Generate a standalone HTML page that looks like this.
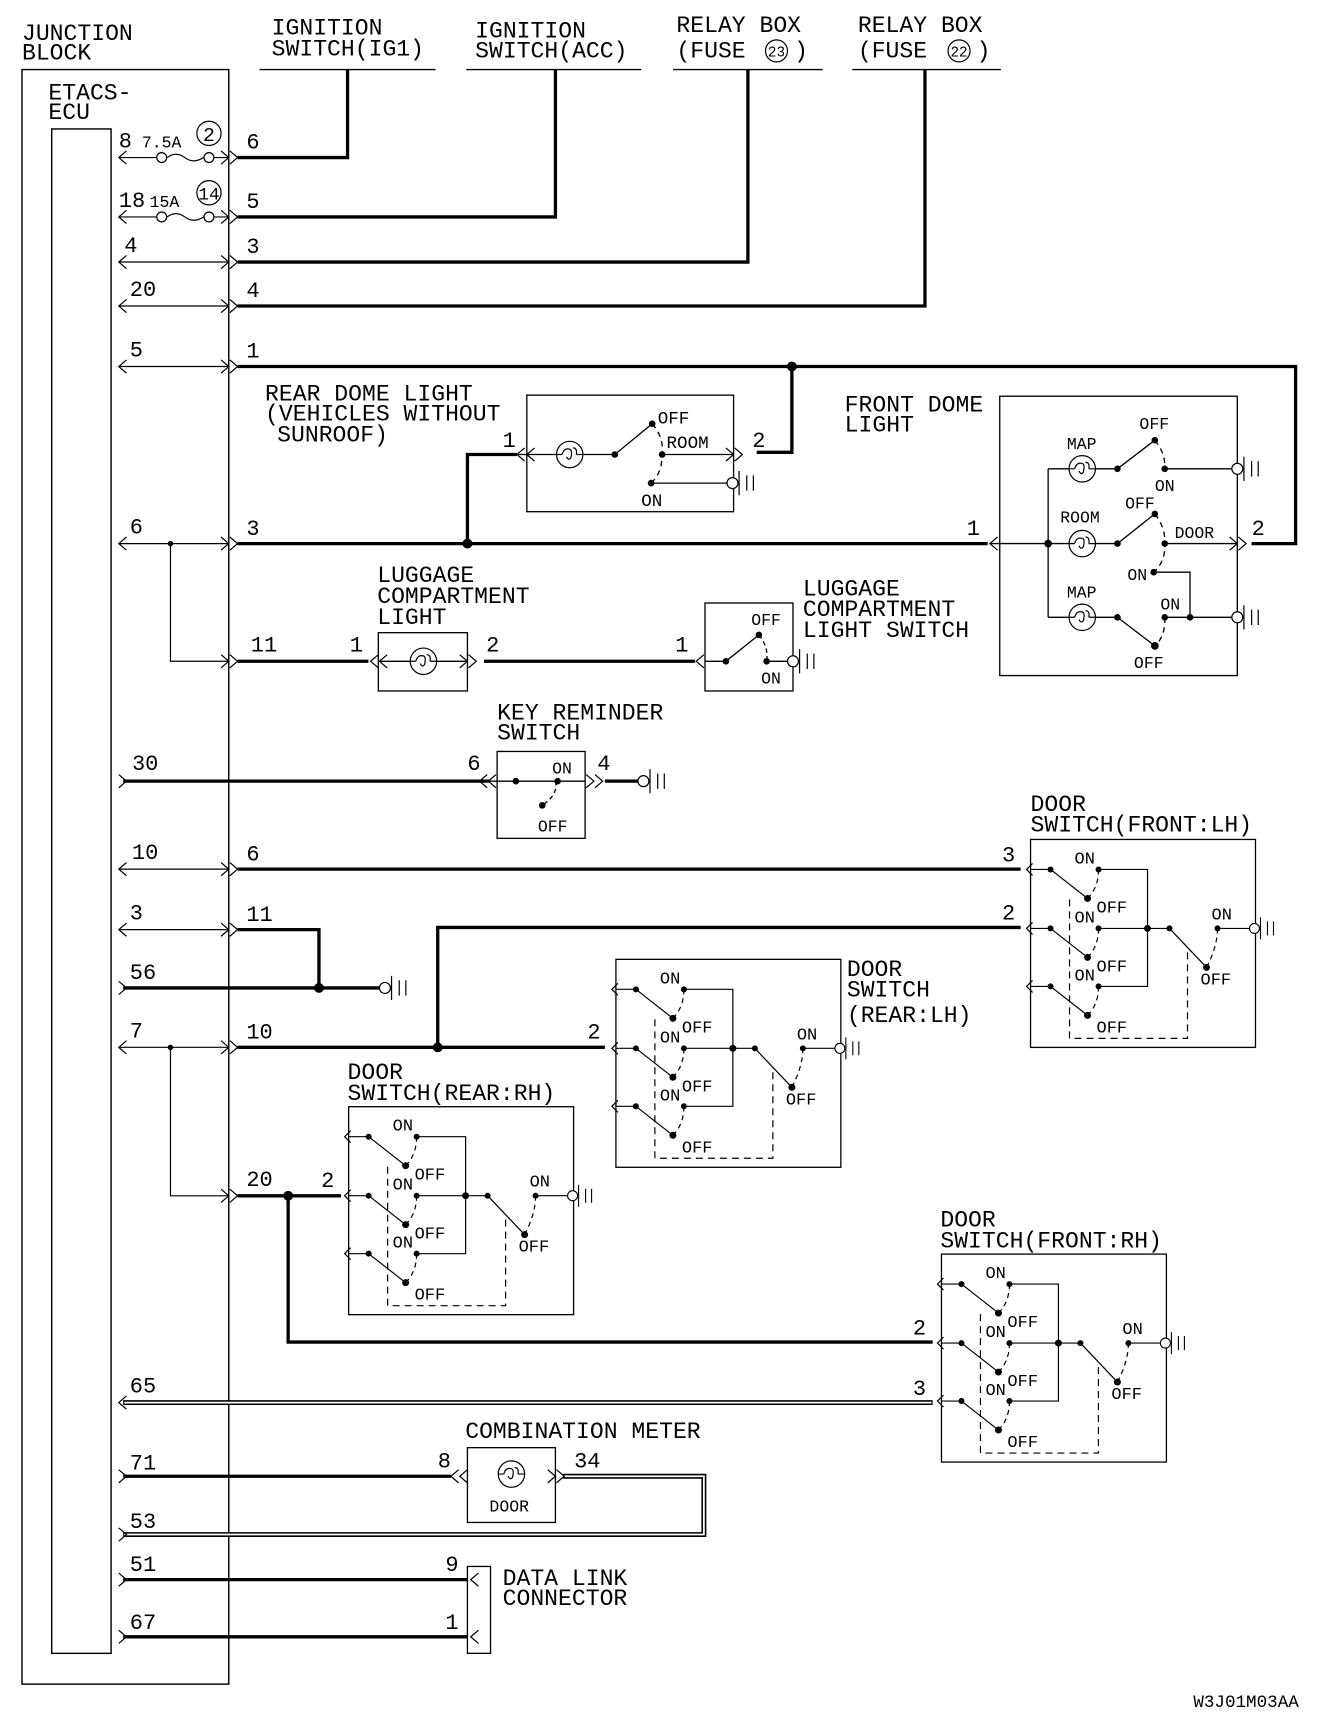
<!DOCTYPE html>
<html><head><meta charset="utf-8"><style>
html,body{margin:0;padding:0;background:#fff;}
svg{display:block}
text{font-family:"Liberation Mono","DejaVu Sans Mono",monospace;fill:#000;}
</style></head><body>
<svg width="1344" height="1724" viewBox="0 0 1222 1567" xmlns="http://www.w3.org/2000/svg">
<defs>
<path id="la" d="M7,-6 L0,0 L7,6" fill="none" stroke="#000" stroke-width="1.1"/>
<path id="ra" d="M-7,-6 L0,0 L-7,6" fill="none" stroke="#000" stroke-width="1.1"/>
<path id="rr" d="M-7,-6 L0,0 L-7,6 M1,-6 L8,0 L1,6" fill="none" stroke="#000" stroke-width="1.1"/>
<path id="ll" d="M7,-6 L0,0 L7,6 M-1,-6 L-8,0 L-1,6" fill="none" stroke="#000" stroke-width="1.1"/>
<g id="gnd" fill="none" stroke="#000" stroke-width="1.1"><circle cx="0" cy="0" r="5" fill="#fff"/><path d="M6,-11 V11 M13,-7 V7 M19,-7 V7"/></g>
<g id="lamp" fill="none" stroke="#000" stroke-width="1.1"><circle r="12"/><path d="M-7,0 Q-5,-6 -1,-5 Q3,-5 1,3 Q-1,6 -3,2 M3,-6 Q7,-6 6,0 M-12,0 H-7 M12,0 H6"/></g>
<g id="ds">
 <rect x="0" y="0" width="225" height="208" fill="none" stroke="#000" stroke-width="1.3"/>
 <g fill="none" stroke="#000" stroke-width="1.2">
  <path d="M0,30 H20 M0,89 H20 M0,147 H20"/>
  <path d="M2,24 L-4,30 L2,36 M2,83 L-4,89 L2,95 M2,141 L-4,147 L2,153"/>
  <path d="M20,30 L57,59 M20,89 L57,118 M20,147 L57,176"/>
  <path d="M68,30 H117 V147 H68 M68,89 H139 M139,89 L176,128 M187,89 H219"/>
  <path d="M68,30 Q68,48 57,59 M68,89 Q68,107 57,118 M68,147 Q68,165 57,176 M187,89 Q187,107 176,128" stroke-dasharray="5,4"/>
  <path d="M39,60 V199 H157 V112" stroke-dasharray="7,5"/>
 </g>
 <g fill="#000"><circle cx="20" cy="30" r="3"/><circle cx="20" cy="89" r="3"/><circle cx="20" cy="147" r="3"/>
 <circle cx="57" cy="59" r="3.5"/><circle cx="57" cy="118" r="3.5"/><circle cx="57" cy="176" r="3.5"/>
 <circle cx="68" cy="30" r="3"/><circle cx="68" cy="89" r="3"/><circle cx="68" cy="147" r="3"/>
 <circle cx="117" cy="89" r="3.5"/><circle cx="139" cy="89" r="3"/><circle cx="187" cy="89" r="3"/><circle cx="176" cy="128" r="3.5"/></g>
 <use href="#gnd" x="224" y="89"/>
 <g font-size="17"><text x="44" y="24">ON</text><text x="66" y="73">OFF</text><text x="44" y="83">ON</text><text x="66" y="132">OFF</text><text x="44" y="141">ON</text><text x="66" y="193">OFF</text><text x="181" y="80">ON</text><text x="170" y="145">OFF</text></g>
</g>
</defs>

<g fill="none" stroke="#000" stroke-width="1.3">
<rect x="20" y="63" width="188" height="1468"/>
<rect x="47" y="117" width="54" height="1386"/>
<path d="M236,63 H396 M424,63 H583 M612,63 H748 M775,63 H910"/>
</g>
<g font-size="21">
<text x="20" y="36">JUNCTION</text><text x="20" y="54">BLOCK</text>
<text x="44" y="90">ETACS-</text><text x="44" y="108">ECU</text>
<text x="247" y="31">IGNITION</text><text x="247" y="50">SWITCH(IG1)</text>
<text x="432" y="34">IGNITION</text><text x="432" y="52">SWITCH(ACC)</text>
<text x="615" y="29">RELAY BOX</text><text x="615" y="52">(FUSE </text>
<text x="780" y="29">RELAY BOX</text><text x="780" y="52">(FUSE </text>
</g>
<g fill="none" stroke="#000" stroke-width="1.1"><circle cx="706" cy="46" r="10"/><circle cx="872" cy="46" r="10"/><circle cx="190" cy="121" r="11"/><circle cx="190" cy="175" r="11"/></g>
<g font-size="13" text-anchor="middle"><text x="706" y="51">23</text><text x="872" y="51">22</text></g>
<text x="190" y="128" font-size="18" text-anchor="middle">2</text>
<text x="190" y="181" font-size="16" text-anchor="middle">14</text>
<g font-size="21"><text x="722" y="52">)</text><text x="888" y="52">)</text></g>

<g fill="none" stroke="#000" stroke-width="3">
<path d="M216,143 H316 V63"/>
<path d="M216,197 H505 V63"/>
<path d="M216,238 H680 V63"/>
<path d="M216,278 H841 V63"/>
<path d="M216,333 H1178 V494 H1138"/>
<path d="M720,333 V411 H688"/>
<path d="M216,494 H898"/>
<path d="M425,494 V413 H470"/>
<path d="M216,601 H335"/>
<path d="M440,601 H632"/>
<path d="M112,710 H445 M550,710 H580"/>
<path d="M216,790 H928"/>
<path d="M216,845 H290 V898 M112,898 H345"/>
<path d="M398,952 V843 H928"/>
<path d="M216,952 H550"/>
<path d="M216,1087 H310"/>
<path d="M262,1087 V1220 H848"/>
<path d="M112,1342 H410"/>
<path d="M112,1436 H425 M112,1488 H425"/>
</g>
<use href="#gnd" x="350" y="898"/>
<g fill="none" stroke="#000" stroke-width="4.5"><path d="M112,1275 H848"/><path d="M512,1342 H640 V1395 H112"/></g>
<g fill="none" stroke="#fff" stroke-width="1.6"><path d="M113,1275 H847"/><path d="M512,1342 H640 V1395 H113"/></g>
<g fill="none" stroke="#000" stroke-width="1.1">
<path d="M108,143 H142 M152,143 Q160,137 168,143 Q176,149 185,143 M195,143 H208"/>
<path d="M108,197 H142 M152,197 Q160,191 168,197 Q176,203 185,197 M195,197 H208"/>
<path d="M108,238 H208 M108,278 H208 M108,333 H208 M108,494 H208 M155,494 V601 H208"/>
<path d="M108,790 H208 M108,845 H208 M108,952 H208 M155,952 V1087 H208"/>
</g>
<g fill="#fff" stroke="#000" stroke-width="1.1"><circle cx="147" cy="143" r="4.5"/><circle cx="190" cy="143" r="4.5"/><circle cx="147" cy="197" r="4.5"/><circle cx="190" cy="197" r="4.5"/></g>
<g>
<use href="#la" x="108" y="143"/><use href="#la" x="108" y="197"/><use href="#la" x="108" y="238"/><use href="#la" x="108" y="278"/><use href="#la" x="108" y="333"/><use href="#la" x="108" y="494"/><use href="#la" x="108" y="790"/><use href="#la" x="108" y="845"/><use href="#la" x="108" y="952"/><use href="#la" x="108" y="1275"/>
<use href="#rr" x="208" y="143"/><use href="#rr" x="208" y="197"/><use href="#rr" x="208" y="238"/><use href="#rr" x="208" y="278"/><use href="#rr" x="208" y="333"/><use href="#rr" x="208" y="494"/><use href="#rr" x="208" y="601"/><use href="#rr" x="208" y="790"/><use href="#rr" x="208" y="845"/><use href="#rr" x="208" y="952"/><use href="#rr" x="208" y="1087"/>
<use href="#ra" x="115" y="710"/><use href="#ra" x="115" y="898"/><use href="#ra" x="115" y="1342"/><use href="#ra" x="115" y="1395"/><use href="#ra" x="115" y="1436"/><use href="#ra" x="115" y="1488"/>
</g>
<g fill="#000"><circle cx="720" cy="333" r="4.5"/><circle cx="425" cy="494" r="4.5"/><circle cx="155" cy="494" r="2.5"/><circle cx="290" cy="898" r="4.5"/><circle cx="398" cy="952" r="4.5"/><circle cx="155" cy="952" r="2.5"/><circle cx="262" cy="1087" r="4.5"/></g>

<g font-size="20">
<text x="108" y="134">8</text><text x="224" y="135">6</text>
<text x="108" y="188">18</text><text x="224" y="189">5</text>
<text x="113" y="229">4</text><text x="224" y="230">3</text>
<text x="118" y="269">20</text><text x="224" y="270">4</text>
<text x="118" y="324">5</text><text x="224" y="325">1</text>
<text x="118" y="485">6</text><text x="224" y="486">3</text>
<text x="228" y="592">11</text>
<text x="120" y="700">30</text>
<text x="120" y="781">10</text><text x="224" y="782">6</text>
<text x="118" y="836">3</text><text x="224" y="837">11</text>
<text x="118" y="890">56</text>
<text x="118" y="943">7</text><text x="224" y="944">10</text>
<text x="224" y="1078">20</text>
<text x="118" y="1266">65</text>
<text x="118" y="1336">71</text><text x="118" y="1389">53</text>
<text x="118" y="1428">51</text><text x="118" y="1481">67</text>
<text x="457" y="406">1</text><text x="684" y="406">2</text>
<text x="879" y="486">1</text><text x="1138" y="486">2</text>
<text x="318" y="592">1</text><text x="442" y="592">2</text><text x="614" y="592">1</text>
<text x="425" y="700">6</text><text x="543" y="700">4</text>
<text x="911" y="783">3</text><text x="911" y="836">2</text>
<text x="534" y="944">2</text><text x="292" y="1079">2</text>
<text x="830" y="1213">2</text><text x="830" y="1268">3</text>
<text x="398" y="1334">8</text><text x="522" y="1334">34</text>
<text x="405" y="1428">9</text><text x="405" y="1481">1</text>
</g>
<g font-size="15"><text x="129" y="134">7.5A</text><text x="136" y="188">15A</text></g>

<g font-size="21"><text x="241" y="364">REAR DOME LIGHT</text><text x="241" y="382">(VEHICLES WITHOUT</text><text x="252" y="401">SUNROOF)</text></g>
<g fill="none" stroke="#000" stroke-width="1.2">
<rect x="479" y="359" width="188" height="106"/>
<path d="M470,413 H506 M530,413 H559 L593,385 M602,413 H667 M592,439 H662"/>
<path d="M593,385 Q604,398 602,413 Q602,430 592,439" stroke-dasharray="5,4"/>
</g>
<use href="#lamp" x="518" y="413"/>
<use href="#la" x="470" y="413"/><use href="#la" x="479" y="413"/><use href="#ra" x="667" y="413"/><use href="#ra" x="675" y="413"/>
<g fill="#000"><circle cx="559" cy="413" r="3"/><circle cx="593" cy="385" r="3"/><circle cx="602" cy="413" r="3"/><circle cx="592" cy="439" r="3"/></g>
<use href="#gnd" x="666" y="439"/>
<g font-size="16"><text x="598" y="385">OFF</text><text x="606" y="407">ROOM</text><text x="583" y="460">ON</text></g>

<g font-size="21"><text x="768" y="374">FRONT DOME</text><text x="768" y="392">LIGHT</text></g>
<g fill="none" stroke="#000" stroke-width="1.2">
<rect x="909" y="360" width="216" height="254"/>
<path d="M900,494 H972 M996,494 H1016 L1050,467 M1059,494 H1125 M953,426 V561 M953,426 H972 M996,426 H1016 L1050,400 M1059,426 H1120 M953,561 H972 M996,561 H1016 L1050,587 M1059,561 H1120 M1049,520 H1082 V561"/>
<path d="M1050,400 Q1060,412 1059,426 M1050,467 Q1060,480 1059,494 Q1060,510 1049,520 M1059,561 Q1060,578 1050,587" stroke-dasharray="5,4"/>
</g>
<use href="#lamp" x="984" y="426"/><use href="#lamp" x="984" y="494"/><use href="#lamp" x="984" y="561"/>
<use href="#la" x="900" y="494"/><use href="#ra" x="1125" y="494"/><use href="#ra" x="1133" y="494"/>
<use href="#gnd" x="1125" y="426"/><use href="#gnd" x="1125" y="561"/>
<g fill="#000"><circle cx="953" cy="494" r="3.5"/><circle cx="1016" cy="426" r="3"/><circle cx="1016" cy="494" r="3"/><circle cx="1016" cy="561" r="3"/><circle cx="1050" cy="400" r="3"/><circle cx="1050" cy="467" r="3"/><circle cx="1050" cy="587" r="3.5"/><circle cx="1059" cy="426" r="3"/><circle cx="1059" cy="494" r="3"/><circle cx="1059" cy="561" r="3"/><circle cx="1049" cy="520" r="3"/><circle cx="1082" cy="561" r="3"/></g>
<g font-size="15"><text x="970" y="408">MAP</text><text x="964" y="475">ROOM</text><text x="970" y="543">MAP</text><text x="1036" y="390">OFF</text><text x="1050" y="446">ON</text><text x="1023" y="462">OFF</text><text x="1068" y="489">DOOR</text><text x="1025" y="527">ON</text><text x="1055" y="554">ON</text><text x="1031" y="607">OFF</text></g>

<g font-size="21"><text x="343" y="529">LUGGAGE</text><text x="343" y="548">COMPARTMENT</text><text x="343" y="567">LIGHT</text>
<text x="730" y="541">LUGGAGE</text><text x="730" y="560">COMPARTMENT</text><text x="730" y="579">LIGHT SWITCH</text></g>
<g fill="none" stroke="#000" stroke-width="1.2"><rect x="344" y="575" width="81" height="53"/><rect x="641" y="548" width="80" height="80"/>
<path d="M344,601 H373 M397,601 H425 M641,601 H660 L690,577 M697,601 H716"/><path d="M690,577 Q699,588 697,601" stroke-dasharray="4,3"/></g>
<use href="#lamp" x="385" y="601"/>
<use href="#la" x="337" y="601"/><use href="#la" x="345" y="601"/><use href="#ra" x="425" y="601"/><use href="#ra" x="433" y="601"/><use href="#la" x="633" y="601"/>
<use href="#gnd" x="721" y="601"/>
<g fill="#000"><circle cx="660" cy="601" r="3"/><circle cx="690" cy="577" r="3"/><circle cx="697" cy="601" r="3"/></g>
<g font-size="15"><text x="683" y="568">OFF</text><text x="692" y="621">ON</text></g>

<g font-size="21"><text x="452" y="654">KEY REMINDER</text><text x="452" y="672">SWITCH</text></g>
<g fill="none" stroke="#000" stroke-width="1.2"><rect x="452" y="683" width="80" height="79"/><path d="M445,710 H469 M469,710 H505 M510,710 H532"/><path d="M505,710 Q508,722 493,732" stroke-dasharray="4,3"/></g>
<use href="#ll" x="444" y="710"/><use href="#rr" x="540" y="710"/>
<use href="#gnd" x="585" y="710"/>
<g fill="#000"><circle cx="469" cy="710" r="3"/><circle cx="507" cy="710" r="3"/><circle cx="493" cy="732" r="3"/></g>
<g font-size="15"><text x="502" y="703">ON</text><text x="489" y="756">OFF</text></g>

<g font-size="21">
<text x="937" y="737">DOOR</text><text x="937" y="756">SWITCH(FRONT:LH)</text>
<text x="770" y="887">DOOR</text><text x="770" y="906">SWITCH</text><text x="770" y="929">(REAR:LH)</text>
<text x="316" y="981">DOOR</text><text x="316" y="1000">SWITCH(REAR:RH)</text>
<text x="855" y="1115">DOOR</text><text x="855" y="1134">SWITCH(FRONT:RH)</text>
</g>
<use href="#ds" transform="translate(937,763) scale(0.909)"/>
<use href="#ds" transform="translate(560,872) scale(0.909)"/>
<use href="#ds" transform="translate(317,1006) scale(0.909)"/>
<use href="#ds" transform="translate(856,1140) scale(0.909)"/>

<text x="423" y="1307" font-size="21">COMBINATION METER</text>
<g fill="none" stroke="#000" stroke-width="1.2"><rect x="425" y="1316" width="80" height="68"/></g>
<use href="#lamp" x="465" y="1340"/>
<use href="#la" x="410" y="1342"/><use href="#la" x="418" y="1342"/><use href="#ra" x="505" y="1342"/><use href="#ra" x="513" y="1342"/>
<text x="445" y="1374" font-size="15">DOOR</text>

<g fill="none" stroke="#000" stroke-width="1.2"><rect x="425" y="1424" width="21" height="79"/></g>
<use href="#la" x="428" y="1436"/><use href="#la" x="428" y="1488"/>
<g font-size="21"><text x="457" y="1441">DATA LINK</text><text x="457" y="1459">CONNECTOR</text></g>

<text x="1085" y="1552" font-size="16">W3J01M03AA</text>
</svg>
</body></html>
